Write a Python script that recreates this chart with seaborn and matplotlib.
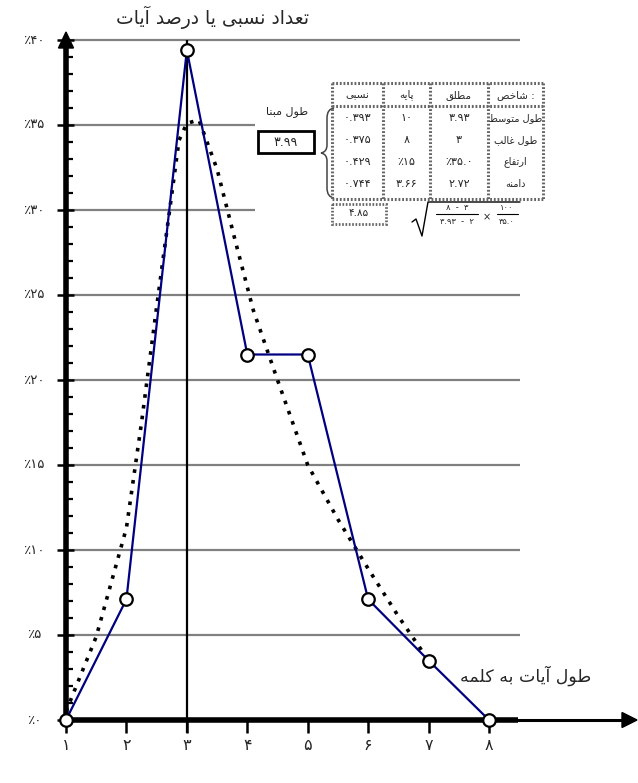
import matplotlib
matplotlib.use("Agg")
import matplotlib.pyplot as plt
import seaborn as sns
import pandas as pd
from matplotlib.patches import Polygon, Rectangle, PathPatch
from matplotlib.path import Path

# ---- data ----
word_len = [1, 2, 3, 4, 5, 6, 7, 8]
verse_pct = [0, 7.1, 39.4, 21.5, 21.5, 7.1, 3.5, 0]

curve_x = [1, 1.5, 2, 2.25, 2.5, 2.87, 3.0, 3.2, 3.5, 3.8, 4.1, 4.5, 5, 5.5, 6, 6.5, 7]
curve_y = [0.5, 4.9, 11.3, 17.5, 24.3, 34.1, 35.1, 35.3, 32.4, 28.2, 24.1, 20.0, 15.0, 11.8, 8.9, 6.1, 3.5]

y_ticks = [0, 5, 10, 15, 20, 25, 30, 35, 40]
y_labels = ["٪۰", "٪۵", "٪۱۰", "٪۱۵", "٪۲۰", "٪۲۵", "٪۳۰", "٪۳۵", "٪۴۰"]
x_labels = ["۱", "۲", "۳", "۴", "۵", "۶", "۷", "۸"]

headers = ["نسبی", "پایه", "مطلق", "شاخص"]
stat_names = ["طول متوسط", "طول غالب", "ارتفاع", "دامنه"]
absolute = ["۳.۹۳", "۳", "٪۳۵.۰", "۲.۷۲"]
base = ["۱۰", "۸", "٪۱۵", "۳.۶۶"]
relative = ["۰.۳۹۳", "۰.۳۷۵", "۰.۴۲۹", "۰.۷۴۴"]
base_len = "۳.۹۹"
index_val = "۴.۸۵"

title = "تعداد نسبی یا درصد آیات"
x_title = "طول آیات به کلمه"
base_title = "طول مبنا"

# ---- minimal persian shaping (presentation forms + visual order) ----
FORMS = {
    "ا": "\uFE8D\uFE8E", "آ": "\uFE81\uFE82", "د": "\uFEA9\uFEAA", "ذ": "\uFEAB\uFEAC",
    "ر": "\uFEAD\uFEAE", "ز": "\uFEAF\uFEB0", "ژ": "\uFB8A\uFB8B", "و": "\uFEED\uFEEE",
    "ب": "\uFE8F\uFE90\uFE91\uFE92", "پ": "\uFB56\uFB57\uFB58\uFB59",
    "ت": "\uFE95\uFE96\uFE97\uFE98", "ث": "\uFE99\uFE9A\uFE9B\uFE9C",
    "ج": "\uFE9D\uFE9E\uFE9F\uFEA0", "چ": "\uFB7A\uFB7B\uFB7C\uFB7D",
    "ح": "\uFEA1\uFEA2\uFEA3\uFEA4", "خ": "\uFEA5\uFEA6\uFEA7\uFEA8",
    "س": "\uFEB1\uFEB2\uFEB3\uFEB4", "ش": "\uFEB5\uFEB6\uFEB7\uFEB8",
    "ص": "\uFEB9\uFEBA\uFEBB\uFEBC", "ض": "\uFEBD\uFEBE\uFEBF\uFEC0",
    "ط": "\uFEC1\uFEC2\uFEC3\uFEC4", "ظ": "\uFEC5\uFEC6\uFEC7\uFEC8",
    "ع": "\uFEC9\uFECA\uFECB\uFECC", "غ": "\uFECD\uFECE\uFECF\uFED0",
    "ف": "\uFED1\uFED2\uFED3\uFED4", "ق": "\uFED5\uFED6\uFED7\uFED8",
    "ک": "\uFB8E\uFB8F\uFB90\uFB91", "گ": "\uFB92\uFB93\uFB94\uFB95",
    "ل": "\uFEDD\uFEDE\uFEDF\uFEE0", "م": "\uFEE1\uFEE2\uFEE3\uFEE4",
    "ن": "\uFEE5\uFEE6\uFEE7\uFEE8", "ه": "\uFEE9\uFEEA\uFEEB\uFEEC",
    "ی": "\uFBFC\uFBFD\uFBFE\uFBFF",
}


def fa(s):
    out = []
    for i, c in enumerate(s):
        if c not in FORMS:
            out.append(c)
            continue
        prev = s[i - 1] if i > 0 else ""
        nxt = s[i + 1] if i + 1 < len(s) else ""
        jp = prev in FORMS and len(FORMS[prev]) == 4
        jn = nxt in FORMS and len(FORMS[c]) == 4
        f = FORMS[c]
        if jp and jn:
            out.append(f[3])
        elif jp:
            out.append(f[1])
        elif jn:
            out.append(f[2])
        else:
            out.append(f[0])
    return "".join(out)[::-1]


sns.set_style("white")
plt.rcParams["font.family"] = ["DejaVu Sans"]

W, H = 638, 783
fig = plt.figure(figsize=(W / 100, H / 100), dpi=100)

# pixel anchors of the data frame
PX_X, OX = 60.43, 66
PX_Y, OY = 17.0, 720

ax = fig.add_axes([0, 0, 1, 1])
ax.set_xlim(1 - OX / PX_X, 1 + (W - OX) / PX_X)
ax.set_ylim(-(H - OY) / PX_Y, 40 + (OY - 40 * PX_Y) / PX_Y)
ax.axis("off")

pax = fig.add_axes([0, 0, 1, 1], zorder=3)
pax.set_xlim(0, W)
pax.set_ylim(H, 0)
pax.axis("off")
pax.patch.set_alpha(0)


def dx(px):
    return px / PX_X


# gridlines
grid_end = {40: 520, 35: 255, 30: 255}
for t in y_ticks[1:]:
    ax.hlines(t, 1, 1 + dx(grid_end.get(t, 520) - OX), color="#808080", lw=1.6, zorder=1)

# vertical line at the mode
ax.vlines(3, -13 / PX_Y, 40, color="black", lw=1.6, zorder=2)

# axes
ax.plot([1, 1], [-0.1, 39.6], color="black", lw=4, solid_capstyle="butt", zorder=4)
ax.plot([1 - dx(2), 1 + dx(518 - OX)], [0, 0], color="black", lw=4, solid_capstyle="butt", zorder=4)
ax.plot([1 + dx(518 - OX), 1 + dx(625 - OX)], [0, 0], color="black", lw=2.2, zorder=4)
pax.add_patch(Polygon([(66, 32), (58.5, 48), (73.5, 48)], closed=True, color="black"))
pax.add_patch(Polygon([(637, 720), (622, 712.5), (622, 727.5)], closed=True, color="black"))

# y ticks
for t in range(0, 41):
    if t % 5 == 0:
        ax.hlines(t, 1 - dx(9), 1 + dx(8), color="black", lw=1.8, zorder=4)
    else:
        ax.hlines(t, 1, 1 + dx(7), color="black", lw=1.6, zorder=4)
for t, lab in zip(y_ticks, y_labels):
    ax.text(1 - dx(32), t, lab, ha="center", va="center", fontsize=9.5)

# x ticks
ax.vlines(word_len, -13 / PX_Y, 0, color="black", lw=1.8, zorder=4)
for xv, lab in zip(word_len, x_labels):
    ax.text(xv, -26 / PX_Y, lab, ha="center", va="center", fontsize=11.5)

# series
sns.lineplot(x=curve_x, y=curve_y, ax=ax, color="black", lw=2.6, linestyle=(0, (1, 2)),
             estimator=None, sort=False, zorder=5)
sns.lineplot(x=word_len, y=verse_pct, ax=ax, color="#000080", lw=1.6, marker="o",
             markersize=9, markerfacecolor="white", markeredgecolor="black",
             markeredgewidth=1.6, estimator=None, sort=False, zorder=6)

# titles
pax.text(212, 17, fa(title), ha="center", va="center", fontsize=13.5)
pax.text(526, 676, fa(x_title), ha="center", va="center", fontsize=12.5)

# base length box
pax.text(287, 112, fa(base_title), ha="center", va="center", fontsize=8)
pax.add_patch(Rectangle((258, 131), 56, 22, fill=False, ec="black", lw=2))
pax.text(286, 142, base_len, ha="center", va="center", fontsize=9)

# brace
brace = Path([(334, 108), (327, 109), (327, 118), (327, 145), (327, 152), (321, 153),
              (327, 154), (327, 161), (327, 188), (327, 197), (334, 198)],
             [Path.MOVETO, Path.CURVE3, Path.CURVE3, Path.LINETO, Path.CURVE3, Path.CURVE3,
              Path.CURVE3, Path.CURVE3, Path.LINETO, Path.CURVE3, Path.CURVE3])
pax.add_patch(PathPatch(brace, fill=False, ec="#444444", lw=1.1))

# summary table
cols = [332, 383, 430, 488, 543]
top, head_bot, bot = 83, 106, 199
row_y = [118, 140, 162, 184]
bstyle = dict(color="#666666", lw=2.2, linestyle=(0, (0.6, 0.6)))
for xc in cols:
    pax.plot([xc, xc], [top, bot], **bstyle)
for yc in [top, head_bot, bot]:
    pax.plot([cols[0], cols[-1]], [yc, yc], **bstyle)
centers = [(cols[i] + cols[i + 1]) / 2 for i in range(4)]
for i, h in enumerate(headers):
    txt = fa(h) + (" :" if i == 3 else "")
    pax.text(centers[i], 95, txt, ha="center", va="center", fontsize=7.5)
for j in range(4):
    pax.text(centers[0], row_y[j], relative[j], ha="center", va="center", fontsize=8)
    pax.text(centers[1], row_y[j], base[j], ha="center", va="center", fontsize=8)
    pax.text(centers[2], row_y[j], absolute[j], ha="center", va="center", fontsize=8)
    pax.text(centers[3], row_y[j], fa(stat_names[j]), ha="center", va="center", fontsize=7)

# index box and formula
pax.add_patch(Rectangle((332, 204), 54, 20, fill=False, ec="#666666", lw=2.0,
                        linestyle=(0, (0.6, 0.6))))
pax.text(359, 213, index_val, ha="center", va="center", fontsize=7.5)
pax.plot([412, 416, 422, 428, 520], [222, 219, 236, 202, 202], color="black", lw=1)
pax.plot([436, 478], [214, 214], color="black", lw=0.8)
pax.plot([497, 518], [214, 214], color="black", lw=0.8)
pax.text(457, 208, "۸  -  ۳", ha="center", va="center", fontsize=6)
pax.text(457, 221, "۳.۹۳  -  ۲", ha="center", va="center", fontsize=6)
pax.text(487, 217, "×", ha="center", va="center", fontsize=7)
pax.text(507, 208, "۱۰۰", ha="center", va="center", fontsize=6)
pax.text(507, 221, "۳۵.۰", ha="center", va="center", fontsize=6)

fig.savefig("out.png", dpi=100)
plt.close(fig)
